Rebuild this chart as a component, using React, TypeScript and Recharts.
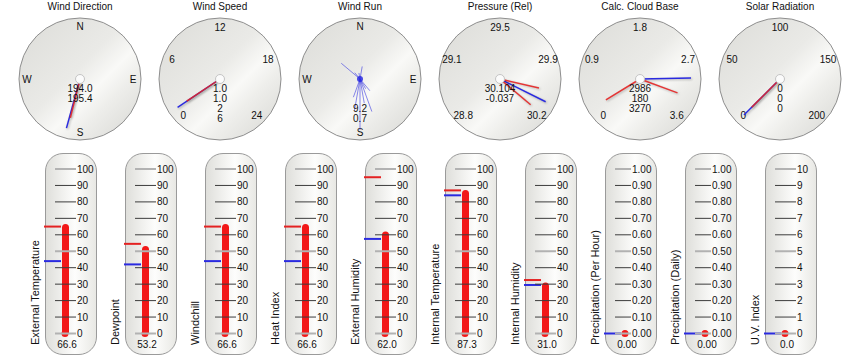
import React from "react";
import {
  BarChart,
  Bar,
  XAxis,
  YAxis,
  ReferenceLine,
  ReferenceDot,
  ScatterChart,
  Scatter,
} from "recharts";

const FONT = '"Liberation Sans", Arial, sans-serif';
const RED = "#e42222";
const BLUE = "#2a2ae0";
const MERCURY = "#f21818";

// ---- dial data ----
const compassTicks = [0, 90, 180, 270];
const compassLabels = ["N", "E", "S", "W"];

const windDirRed = [194.0];
const windDirBlue = [195.4];
const windDirText = ["194.0", "195.4"];

const speedTicks = [0, 6, 12, 18, 24];
const speedTickLabels = ["0", "6", "12", "18", "24"];
const speedRed = [1.0];
const speedBlue = [1.0];
const speedText = ["1.0", "1.0", "2", "6"];

// wind run per direction (bearing in degrees, relative run 0..1)
const runBearings = [10, 140, 150, 160, 170, 180, 190, 200, 310, 320, 350];
const runAmounts = [0.25, 0.3, 0.22, 0.68, 0.48, 1.0, 0.62, 0.38, 0.48, 0.16, 0.12];
const runText = ["9.2", "0.7"];

const pressureTicks = [28.8, 29.15, 29.5, 29.85, 30.2];
const pressureTickLabels = ["28.8", "29.1", "29.5", "29.9", "30.2"];
const pressureRed = [30.034, 30.174];
const pressureBlue = [30.104];
const pressureText = ["30.104", "-0.037"];

const cloudTicks = [0, 900, 1800, 2700, 3600];
const cloudTickLabels = ["0", "0.9", "1.8", "2.7", "3.6"];
const cloudRed = [180, 3270];
const cloudBlue = [2986];
const cloudText = ["2986", "180", "3270"];

const solarTicks = [0, 50, 100, 150, 200];
const solarTickLabels = ["0", "50", "100", "150", "200"];
const solarRed = [0];
const solarBlue = [0];
const solarText = ["0", "0", "0"];

// ---- thermometer data ----
const thermoTitles = [
  "External Temperature",
  "Dewpoint",
  "Windchill",
  "Heat Index",
  "External Humidity",
  "Internal Temperature",
  "Internal Humidity",
  "Precipitation (Per Hour)",
  "Precipitation (Daily)",
  "U.V. Index",
];
const thermoValues = [66.6, 53.2, 66.6, 66.6, 62.0, 87.3, 31.0, 0, 0, 0];
const thermoHigh = [65, 54.5, 65, 65, 95, 87, 32.5, 0, 0, 0];
const thermoLow = [44, 42, 44, 44, 57.5, 84, 29.5, 0, 0, 0];
const thermoScale = ["pct", "pct", "pct", "pct", "pct", "pct", "pct", "rain", "rain", "uv"];

const pctTicks = [0, 10, 20, 30, 40, 50, 60, 70, 80, 90, 100];
const rainTicks = [0, 0.1, 0.2, 0.3, 0.4, 0.5, 0.6, 0.7, 0.8, 0.9, 1.0];
const uvTicks = [0, 1, 2, 3, 4, 5, 6, 7, 8, 9, 10];

const scales: Record<string, { ticks: number[]; digits: number; valueDigits: number; gap: number }> = {
  pct: { ticks: pctTicks, digits: 0, valueDigits: 1, gap: 8 },
  rain: { ticks: rainTicks, digits: 2, valueDigits: 2, gap: 13 },
  uv: { ticks: uvTicks, digits: 0, valueDigits: 1, gap: 8 },
};

// ---- dial helpers ----
const polar = (bearing: number, r: number) => {
  const a = (bearing * Math.PI) / 180;
  return { x: r * Math.sin(a), y: r * Math.cos(a) };
};
const gauge = (min: number, max: number) => (v: number) => -135 + (270 * (v - min)) / (max - min);
const compass = (v: number) => v;

const Empty = () => <g />;

const Face = (props: any) => (
  <g>
    <defs>
      <linearGradient id="dialFace" x1="0" y1="0" x2="1" y2="1">
        <stop offset="0" stopColor="#dcdcd8" />
        <stop offset="0.45" stopColor="#eaeae7" />
        <stop offset="0.6" stopColor="#f9f9f7" />
        <stop offset="0.72" stopColor="#ededea" />
        <stop offset="1" stopColor="#d6d6d2" />
      </linearGradient>
    </defs>
    <circle cx={props.cx} cy={props.cy} r={61} fill="url(#dialFace)" stroke="#8e8e8e" strokeWidth={1} />
  </g>
);

const Cap = (props: any) => (
  <circle cx={props.cx} cy={props.cy} r={4.5} fill="#fbfbfb" stroke="#c4c4c4" strokeWidth={1} />
);

const RunHub = (props: any) => (
  <circle cx={props.cx} cy={props.cy} r={3} fill={BLUE} fillOpacity={0.85} />
);

const TickText = (props: any) => (
  <text
    x={props.cx}
    y={props.cy}
    textAnchor="middle"
    dominantBaseline="central"
    fontSize={10}
    fontFamily={FONT}
    fill="#111"
  >
    {props.payload.label}
  </text>
);

const needleShadow = { filter: "drop-shadow(1.5px 1.5px 1px rgba(0,0,0,0.28))" };

type DialProps = {
  cx: number;
  title: string;
  ticks: number[];
  labels: string[];
  toBearing: (v: number) => number;
  red?: number[];
  blue?: number[];
  text: string[];
  textTop: number;
  rays?: { bearing: number; amount: number }[];
};

function Dial({ cx, title, ticks, labels, toBearing, red = [], blue = [], text, textTop, rays }: DialProps) {
  const tickData = ticks.map((v, i) => ({ ...polar(toBearing(v), ticks.length === 4 ? 53 : 52), label: labels[i] }));
  const center = { x: 0, y: 0 };
  return (
    <>
      <div
        style={{
          position: "absolute",
          left: cx - 70,
          top: 1,
          width: 140,
          textAlign: "center",
          fontSize: 10,
          lineHeight: "12px",
          color: "#111",
        }}
      >
        {title}
      </div>
      <div style={{ position: "absolute", left: cx - 70, top: 0 }}>
        <ScatterChart width={140} height={158} margin={{ top: 0, right: 0, bottom: 0, left: 0 }}>
          <XAxis type="number" dataKey="x" domain={[-70, 70]} hide />
          <YAxis type="number" dataKey="y" domain={[-79, 79]} hide />
          <Scatter data={[center]} shape={Face} isAnimationActive={false} />
          <Scatter data={tickData} shape={TickText} isAnimationActive={false} />
          {(rays || []).map((r, i) => (
            <Scatter
              key={"r" + i}
              data={[center, polar(r.bearing, 51 * r.amount)]}
              line={{ stroke: BLUE, strokeWidth: 1, strokeOpacity: 0.55 }}
              shape={Empty}
              isAnimationActive={false}
            />
          ))}
          {rays && <Scatter data={[center]} shape={RunHub} isAnimationActive={false} />}
          {blue.map((v, i) => (
            <Scatter
              key={"b" + i}
              data={[center, polar(toBearing(v), 51)]}
              line={{ stroke: BLUE, strokeWidth: 1.5, style: needleShadow }}
              shape={Empty}
              isAnimationActive={false}
            />
          ))}
          {red.map((v, i) => (
            <Scatter
              key={"d" + i}
              data={[center, polar(toBearing(v), 40)]}
              line={{ stroke: RED, strokeWidth: 1.5, strokeOpacity: 0.9, style: needleShadow }}
              shape={Empty}
              isAnimationActive={false}
            />
          ))}
          {!rays && <Scatter data={[center]} shape={Cap} isAnimationActive={false} />}
        </ScatterChart>
      </div>
      <div
        style={{
          position: "absolute",
          left: cx - 40,
          top: textTop,
          width: 80,
          textAlign: "center",
          fontSize: 10,
          lineHeight: "10px",
          color: "#111",
        }}
      >
        {text.map((t, i) => (
          <div key={i}>{t}</div>
        ))}
      </div>
    </>
  );
}

// ---- thermometer ----
function Thermometer({ index }: { index: number }) {
  const caseLeft = 45 + 80 * index;
  const sc = scales[thermoScale[index]];
  const max = sc.ticks[sc.ticks.length - 1];
  const title = thermoTitles[index];
  const value = thermoValues[index];
  const data = [{ name: title, label: value.toFixed(sc.valueDigits), value }];

  const ScaleTick = (props: any) => {
    const { x, y, payload } = props;
    const v = payload.value;
    const major = v === 0 || v === max || Math.abs(v - max / 2) < 1e-9;
    return (
      <g>
        <line
          x1={x - 30}
          x2={x - sc.gap - 1}
          y1={y}
          y2={y}
          stroke={major ? "#b2b2b2" : "#3c3c3c"}
          strokeWidth={major ? 2 : 1}
        />
        <text x={x - sc.gap} y={y} dy="0.35em" textAnchor="start" fontSize={10} fontFamily={FONT} fill="#111">
          {v.toFixed(sc.digits)}
        </text>
      </g>
    );
  };

  const ValueTick = (props: any) => (
    <text x={props.x + 2} y={props.y + 14.5} textAnchor="middle" fontSize={10} fontFamily={FONT} fill="#111">
      {data[0].label}
    </text>
  );

  const marker = (color: string) => (p: any) => {
    const left = Math.min(p.x1, p.x2);
    return <line x1={left - 1} x2={left + 16} y1={p.y1} y2={p.y1} stroke={color} strokeWidth={2} />;
  };

  const high = thermoHigh[index];
  const low = thermoLow[index];

  return (
    <>
      <div
        style={{
          position: "absolute",
          left: caseLeft,
          top: 153,
          width: 50,
          height: 200,
          borderRadius: 18,
          border: "1px solid #9a9a9a",
          background: "linear-gradient(90deg, #dfdfdb 0%, #f4f4f2 40%, #fdfdfc 58%, #e8e8e4 100%)",
        }}
      />
      <div
        style={{
          position: "absolute",
          left: caseLeft - 16,
          top: 345,
          transformOrigin: "left top",
          transform: "rotate(-90deg)",
          whiteSpace: "nowrap",
          fontSize: 11,
          lineHeight: "12px",
          color: "#111",
        }}
      >
        {title}
      </div>
      <div style={{ position: "absolute", left: caseLeft - 20, top: 145 }}>
        <BarChart width={80} height={215} data={data} margin={{ top: 24, right: 0, bottom: 0, left: 20 }}>
          <XAxis
            dataKey="name"
            height={26.5}
            axisLine={false}
            tickLine={false}
            tickSize={0}
            tickMargin={0}
            interval={0}
            tick={ValueTick}
          />
          <YAxis
            orientation="right"
            type="number"
            width={20}
            domain={[0, max]}
            ticks={sc.ticks}
            interval={0}
            axisLine={false}
            tickLine={false}
            tickSize={0}
            tickMargin={0}
            tick={ScaleTick}
            allowDataOverflow
          />
          {high !== low && <ReferenceLine y={high} shape={marker(RED)} />}
          <ReferenceLine y={low} shape={marker(BLUE)} />
          <Bar dataKey="value" barSize={7} fill={MERCURY} radius={[3.5, 3.5, 0, 0]} isAnimationActive={false} />
          <ReferenceDot x={title} y={0} r={3.5} fill={MERCURY} stroke="none" />
        </BarChart>
      </div>
    </>
  );
}

export default function App() {
  const runRays = runBearings.map((b, i) => ({ bearing: b, amount: runAmounts[i] }));
  return (
    <div
      style={{
        position: "absolute",
        left: 0,
        top: 0,
        width: 858,
        height: 364,
        background: "#fff",
        fontFamily: FONT,
        overflow: "hidden",
      }}
    >
      <Dial cx={80} title="Wind Direction" ticks={compassTicks} labels={compassLabels} toBearing={compass} red={windDirRed} blue={windDirBlue} text={windDirText} textTop={84} />
      <Dial cx={220} title="Wind Speed" ticks={speedTicks} labels={speedTickLabels} toBearing={gauge(0, 24)} red={speedRed} blue={speedBlue} text={speedText} textTop={84} />
      <Dial cx={360} title="Wind Run" ticks={compassTicks} labels={compassLabels} toBearing={compass} text={runText} textTop={104} rays={runRays} />
      <Dial cx={500} title="Pressure (Rel)" ticks={pressureTicks} labels={pressureTickLabels} toBearing={gauge(28.8, 30.2)} red={pressureRed} blue={pressureBlue} text={pressureText} textTop={84} />
      <Dial cx={640} title="Calc. Cloud Base" ticks={cloudTicks} labels={cloudTickLabels} toBearing={gauge(0, 3600)} red={cloudRed} blue={cloudBlue} text={cloudText} textTop={84} />
      <Dial cx={780} title="Solar Radiation" ticks={solarTicks} labels={solarTickLabels} toBearing={gauge(0, 200)} red={solarRed} blue={solarBlue} text={solarText} textTop={84} />
      {thermoTitles.map((_, i) => (
        <Thermometer key={i} index={i} />
      ))}
    </div>
  );
}
